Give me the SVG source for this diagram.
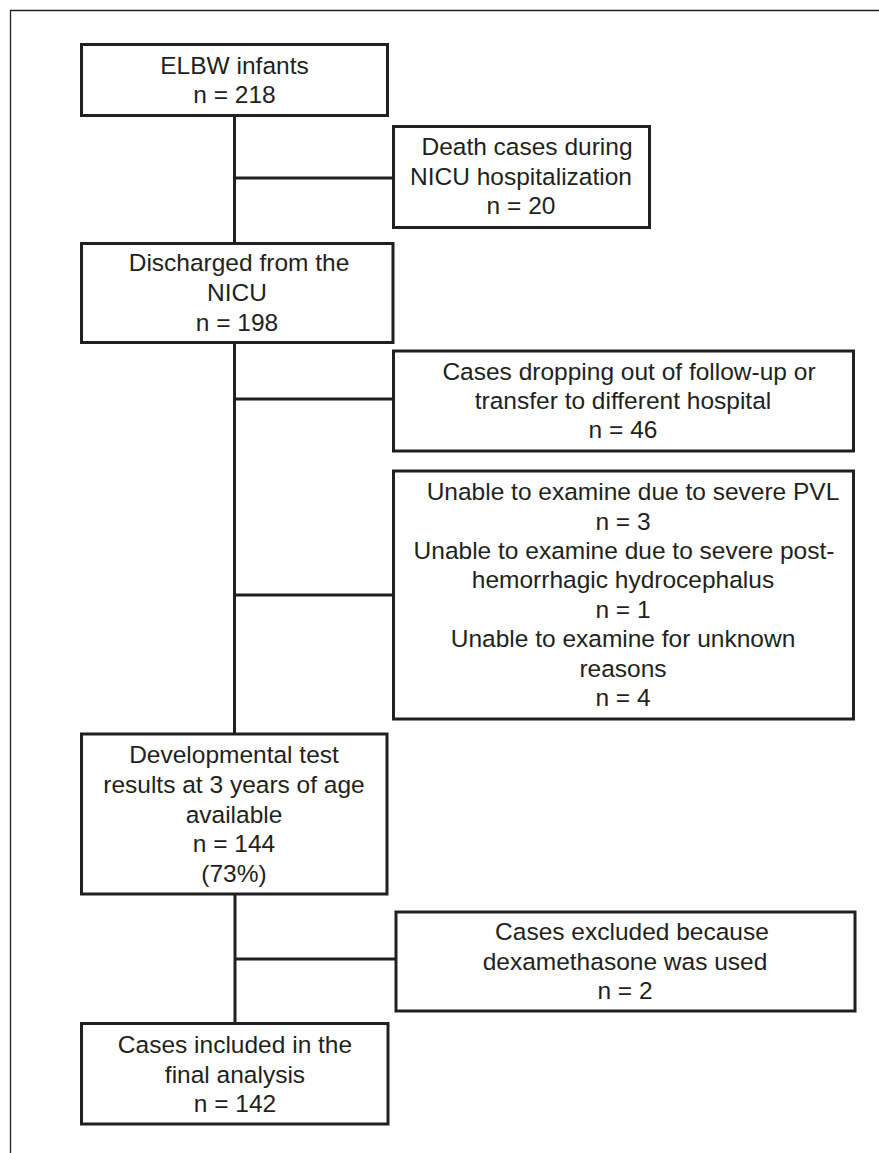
<svg xmlns="http://www.w3.org/2000/svg" width="879" height="1153" viewBox="0 0 879 1153">
<style>
.box{fill:#fff;stroke:#231f20;stroke-width:3}
.ln{stroke:#231f20;stroke-width:3;fill:none}
.frame{stroke:#231f20;stroke-width:1.3;fill:none}
text{font-family:"Liberation Sans",Arial,sans-serif;font-size:24.5px;fill:#231f20;text-anchor:middle}
</style>
<rect width="879" height="1153" fill="#fff"/>
<path class="frame" d="M10.5 1153 V10.5 H879"/>
<g id="connectors">
<line class="ln" x1="234.5" y1="115" x2="234.5" y2="243"/>
<line class="ln" x1="234.5" y1="178" x2="393" y2="178"/>
<line class="ln" x1="234.5" y1="343" x2="234.5" y2="734"/>
<line class="ln" x1="234.5" y1="399" x2="393" y2="399"/>
<line class="ln" x1="234.5" y1="595" x2="393" y2="595"/>
<line class="ln" x1="235" y1="894" x2="235" y2="1023"/>
<line class="ln" x1="235" y1="959" x2="396" y2="959"/>
</g>
<g id="n1">
<rect class="box" x="81.5" y="44.5" width="306" height="71"/>
<text x="234.5" y="74">ELBW infants</text>
<text x="234.5" y="103">n = 218</text>
</g>
<g id="n2">
<rect class="box" x="393.5" y="126.5" width="256" height="101"/>
<text x="527" y="155">Death cases during</text>
<text x="521" y="185">NICU hospitalization</text>
<text x="521" y="214">n = 20</text>
</g>
<g id="n3">
<rect class="box" x="81.5" y="243.5" width="311.5" height="99"/>
<text x="239" y="271">Discharged from the</text>
<text x="237" y="301">NICU</text>
<text x="237" y="331">n = 198</text>
</g>
<g id="n4">
<rect class="box" x="393.5" y="351" width="460" height="100"/>
<text x="629" y="380">Cases dropping out of follow-up or</text>
<text x="623" y="409">transfer to different hospital</text>
<text x="623" y="438">n = 46</text>
</g>
<g id="n5">
<rect class="box" x="393.5" y="471" width="460" height="248"/>
<text x="633" y="500">Unable to examine due to severe PVL</text>
<text x="623" y="530">n = 3</text>
<text x="624" y="559">Unable to examine due to severe post-</text>
<text x="623" y="588">hemorrhagic hydrocephalus</text>
<text x="623" y="618">n = 1</text>
<text x="623" y="647">Unable to examine for unknown</text>
<text x="623" y="677">reasons</text>
<text x="623" y="706">n = 4</text>
</g>
<g id="n6">
<rect class="box" x="81.5" y="734" width="305.5" height="160"/>
<text x="234" y="763">Developmental test</text>
<text x="234" y="793">results at 3 years of age</text>
<text x="234" y="823">available</text>
<text x="234" y="852">n = 144</text>
<text x="234" y="882">(73%)</text>
</g>
<g id="n7">
<rect class="box" x="396" y="912" width="459" height="99"/>
<text x="632" y="940">Cases excluded because</text>
<text x="625" y="970">dexamethasone was used</text>
<text x="625" y="999">n = 2</text>
</g>
<g id="n8">
<rect class="box" x="81.5" y="1023.5" width="306.5" height="100.5"/>
<text x="235" y="1053">Cases included in the</text>
<text x="235" y="1083">final analysis</text>
<text x="235" y="1112">n = 142</text>
</g>
</svg>
